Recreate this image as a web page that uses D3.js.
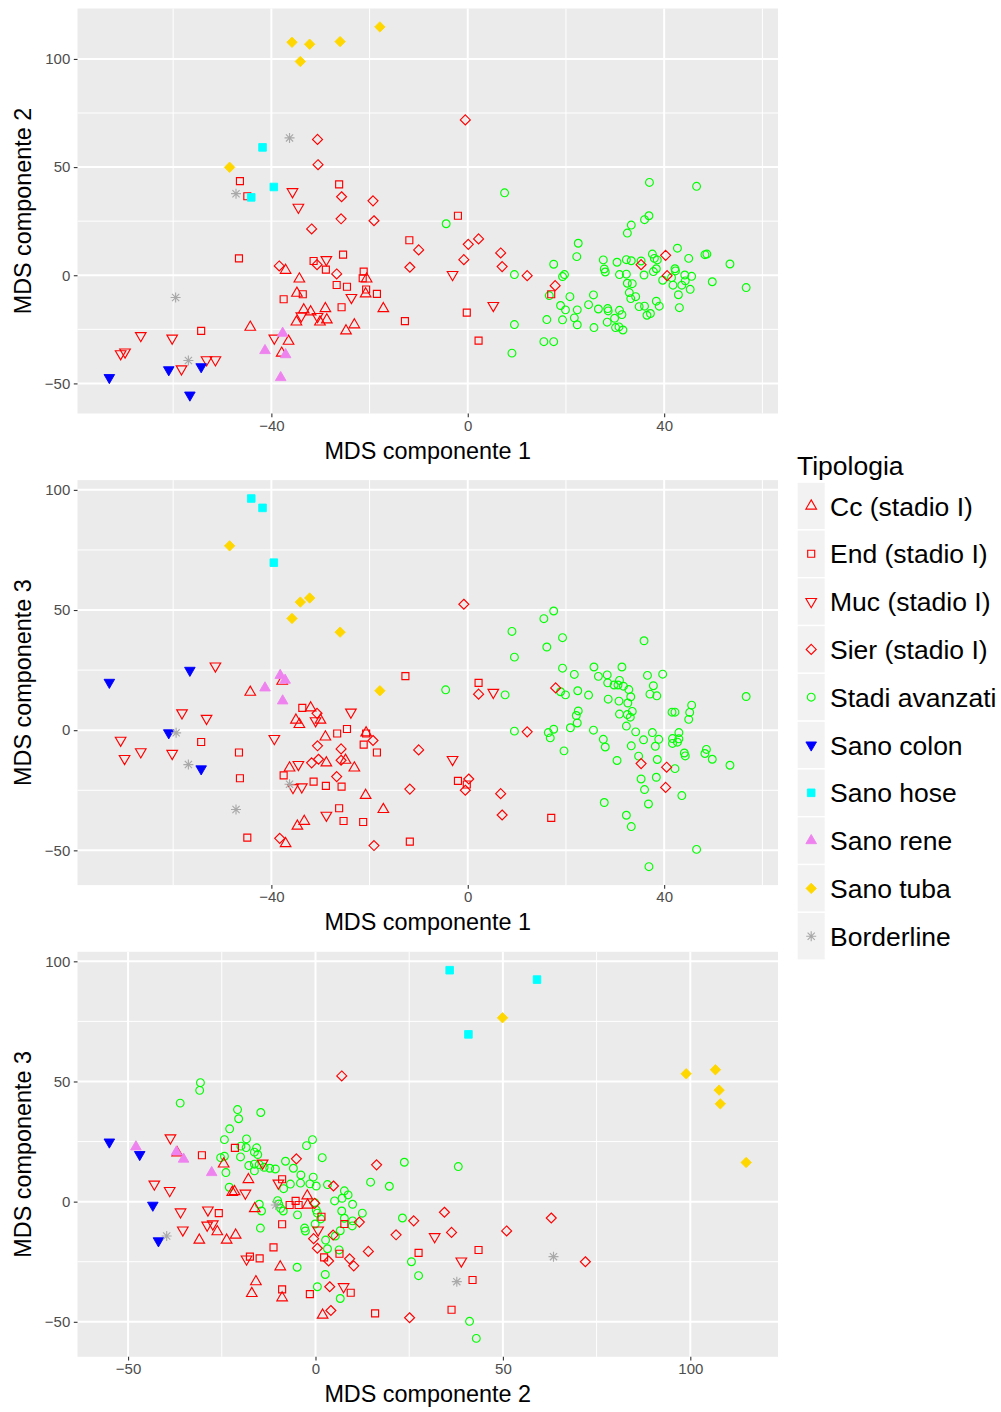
<!DOCTYPE html>
<html>
<head>
<meta charset="utf-8">
<script src="https://cdn.jsdelivr.net/npm/d3@7"></script>
<style>
  body { margin: 0; background: #ffffff; }
  svg { display: block; }
  text { font-family: "Liberation Sans", Arial, Helvetica, sans-serif; }
</style>
</head>
<body>
<svg id="chart" width="1001" height="1412"></svg>
<script>
// ---- legend categories ----
const typeNames = ["Cc (stadio I)", "End (stadio I)", "Muc (stadio I)", "Sier (stadio I)",
  "Stadi avanzati", "Sano colon", "Sano hose", "Sano rene", "Sano tuba", "Borderline"];

// ---- axis titles and ticks ----
const axisTitles = [
  ["MDS componente 1", "MDS componente 2"],
  ["MDS componente 1", "MDS componente 3"],
  ["MDS componente 2", "MDS componente 3"]
];
const comp1Ticks = [-40, 0, 40];
const comp1Minor = [-60, -20, 20, 60];
const comp2Ticks = [-50, 0, 50, 100];
const comp2Minor = [-25, 25, 75];
const comp3Ticks = [-50, 0, 50, 100];
const comp3Minor = [-25, 25, 75];

// ---- component 1 vs component 2 ----
const cc12 = [[-37.1,2.3],[-34.3,-1.7],[-20.6,-1.7],[-34.8,-8.3],[-20.8,-8.6],[-17.2,-15.4],[-33.4,-16.0],[-32.0,-16.9],[-29.0,-15.4],[-34.9,-21.6],[-30.1,-21.6],[-28.7,-20.6],[-23.1,-22.9],[-24.8,-25.7],[-44.3,-24.0],[-36.5,-30.5],[-37.9,-36.0]];
const end12 = [[-46.4,43.5],[-44.9,36.5],[-26.2,42.0],[-11.9,16.2],[-46.6,7.8],[-31.4,6.6],[-25.4,9.5],[-28.9,2.6],[-21.2,1.7],[-21.4,-1.4],[-26.7,-4.5],[-24.6,-5.3],[-33.6,-8.8],[-20.7,-6.6],[-18.5,-8.6],[-37.5,-11.1],[-25.7,-14.8],[-12.8,-21.2],[-54.3,-25.7],[-2.0,27.5],[-0.2,-17.3],[2.2,-30.2],[17.0,-8.8]];
const muc12 = [[-35.7,38.6],[-34.5,31.4],[-28.8,7.2],[-23.7,-10.3],[-33.9,-18.8],[-30.6,-19.1],[-66.6,-27.9],[-60.2,-29.1],[-70.7,-36.3],[-69.8,-35.5],[-58.3,-43.3],[-53.2,-39.1],[-51.4,-39.1],[-39.4,-29.1],[-3.1,0.3],[5.2,-14.0]];
const sier12 = [[-30.6,62.8],[-30.5,51.1],[-25.7,36.3],[-19.3,34.4],[-25.8,26.1],[-19.1,25.2],[-31.8,21.4],[-10.0,11.7],[-11.8,3.7],[-38.4,4.3],[-30.7,4.9],[-26.7,0.6],[-0.5,71.8],[0.1,14.3],[2.2,16.8],[-0.8,7.2],[6.7,10.3],[7.0,4.0],[12.1,-0.2],[17.8,-4.8],[40.3,9.2],[35.3,4.9],[40.6,-0.2]];
const stadi12 = [[-4.4,23.8],[7.5,38.1],[37.0,42.9],[46.6,41.1],[36.9,27.5],[36.0,25.7],[33.3,23.2],[32.5,19.5],[9.5,0.3],[9.5,-22.8],[9.0,-36.0],[15.5,-30.7],[17.5,-30.7],[16.1,-20.5],[17.5,5.1],[19.3,-0.6],[19.7,0.3],[22.5,14.8],[22.2,8.6],[16.6,-9.4],[20.8,-9.9],[18.9,-14.0],[19.9,-16.0],[19.3,-20.6],[21.7,-19.7],[22.3,-22.9],[22.3,-16.0],[24.6,-13.6],[25.6,-9.1],[25.7,-24.2],[26.6,-15.6],[27.6,7.1],[27.8,2.9],[28.0,1.5],[28.5,-15.4],[28.6,-16.5],[28.4,-21.7],[29.9,-19.9],[30.1,-24.2],[30.8,-23.9],[31.6,-25.3],[30.9,-16.2],[31.4,-18.2],[30.4,6.0],[30.9,0.3],[32.3,7.2],[32.3,0.5],[32.5,-3.7],[33.5,-3.9],[33.3,6.7],[35.3,6.6],[35.9,0.1],[32.9,-8.0],[33.2,-10.8],[34.2,-9.9],[34.9,-14.5],[36.0,-14.3],[36.5,-18.5],[37.2,-17.7],[37.6,9.8],[38.0,7.8],[38.6,7.1],[38.4,3.0],[37.8,1.7],[38.4,-12.0],[39.0,-14.3],[39.7,-2.3],[41.5,-1.1],[41.8,-4.6],[42.2,3.0],[42.3,2.0],[42.7,12.5],[42.9,-9.0],[43.1,-15.0],[43.6,-4.6],[44.2,0.1],[44.3,-2.6],[45.3,-6.5],[45.6,-0.5],[45.0,7.8],[48.3,9.5],[48.7,9.8],[49.8,-3.0],[53.4,5.2],[56.7,-5.7]];
const colon12 = [[-73.0,-47.3],[-60.9,-43.7],[-54.3,-42.3],[-56.6,-55.4]];
const hose12 = [[-41.8,59.1],[-39.5,40.8],[-44.1,36.0]];
const rene12 = [[-37.7,-26.8],[-41.3,-34.8],[-37.1,-36.7],[-38.1,-47.3]];
const tuba12 = [[-35.8,107.7],[-32.2,106.8],[-26.0,108.0],[-17.9,114.8],[-34.1,98.8],[-48.5,49.9]];
const border12 = [[-36.3,63.5],[-47.2,37.7],[-59.5,-10.3],[-56.9,-39.4]];

// ---- component 1 vs component 3 ----
const cc13 = [[-44.3,15.8],[-37.8,20.4],[-35.0,4.2],[-34.3,2.4],[-32.0,9.3],[-30.0,4.2],[-29.0,-2.8],[-20.7,-1.1],[-36.3,-15.7],[-28.8,-13.6],[-23.1,-15.7],[-24.9,-12.5],[-20.8,-27.1],[-17.2,-33.0],[-34.7,-39.9],[-33.3,-37.9],[-37.1,-47.2]];
const end13 = [[-12.7,22.5],[-33.7,9.3],[-54.3,-4.9],[-46.6,-9.3],[-46.4,-20.0],[-37.5,-18.8],[-26.6,-1.4],[-24.6,0.5],[-21.2,-6.0],[-18.5,-9.3],[-20.7,-1.4],[-31.4,-21.4],[-28.9,-23.2],[-25.7,-23.5],[-26.2,-32.5],[-25.3,-37.8],[-21.3,-38.2],[-44.9,-44.7],[-11.8,-46.4],[2.2,19.7],[-2.0,-21.1],[17.0,-36.5],[-0.2,-22.6]];
const muc13 = [[-51.4,26.7],[-58.2,7.2],[-53.2,4.9],[-70.7,-4.2],[-69.9,-11.8],[-66.6,-9.0],[-60.2,-9.7],[-39.4,-3.5],[-23.8,7.5],[-31.0,3.9],[-34.5,-14.3],[-35.6,-23.9],[-33.8,-23.6],[-28.8,-35.4],[5.2,15.7],[-3.1,-12.2]];
const sier13 = [[-0.8,52.4],[17.9,17.6],[-30.7,7.0],[-30.6,-6.5],[-25.8,-7.8],[-19.3,-4.3],[-10.0,-8.2],[-31.8,-13.6],[-30.4,-12.1],[-25.8,-12.5],[-26.7,-19.3],[-11.8,-24.5],[-38.3,-45.0],[-19.1,-48.0],[2.2,15.0],[12.1,-0.7],[0.2,-20.3],[-0.5,-25.0],[6.7,-26.4],[7.0,-35.3],[35.3,-13.9],[40.5,-15.4],[40.3,-23.8]];
const stadi13 = [[17.5,49.6],[15.5,46.4],[9.0,41.1],[19.3,38.5],[16.1,34.6],[35.9,37.2],[9.5,30.4],[19.3,25.8],[21.7,23.2],[25.7,26.3],[26.6,22.4],[28.4,23.0],[31.4,26.3],[28.5,19.7],[29.8,18.8],[30.6,18.8],[30.9,20.7],[31.7,18.3],[32.8,16.9],[36.6,22.8],[39.7,23.3],[37.8,18.5],[-4.5,16.8],[22.4,16.4],[18.9,16.0],[7.6,14.7],[19.9,14.7],[24.6,14.6],[33.2,13.9],[28.6,12.9],[30.8,12.1],[32.6,11.3],[37.1,15.0],[38.5,14.3],[45.6,10.4],[56.7,14.0],[41.6,7.5],[42.2,7.5],[45.2,7.4],[45.0,4.5],[22.5,8.0],[22.1,6.1],[22.3,3.0],[30.9,6.7],[32.5,6.5],[33.1,5.4],[33.5,7.8],[32.3,1.7],[20.9,1.0],[17.5,0.4],[16.4,-1.0],[16.8,-3.2],[9.5,-0.4],[25.6,0.0],[34.2,-0.7],[37.6,-1.0],[35.8,-4.0],[38.9,-3.8],[38.2,-6.7],[27.6,-3.8],[28.0,-7.0],[33.3,-6.5],[41.7,-3.5],[43.0,-1.0],[43.0,-3.6],[42.7,-5.0],[41.7,-5.5],[19.6,-8.6],[44.1,-9.5],[44.3,-10.7],[48.6,-8.0],[48.3,-9.7],[49.8,-12.1],[53.4,-14.6],[30.4,-12.6],[34.8,-10.8],[38.6,-12.2],[42.2,-16.0],[35.3,-20.3],[38.4,-19.6],[36.0,-24.7],[43.6,-27.2],[27.8,-30.1],[36.8,-30.7],[32.3,-35.4],[33.3,-40.1],[46.6,-49.6],[36.9,-56.8]];
const colon13 = [[-73.0,19.9],[-56.6,24.9],[-60.9,-1.1],[-54.3,-16.1]];
const hose13 = [[-44.1,96.4],[-41.8,92.5],[-39.5,69.7]];
const rene13 = [[-38.2,22.8],[-37.2,20.8],[-41.3,17.6],[-37.7,12.2]];
const tuba13 = [[-48.5,76.7],[-34.1,53.3],[-32.2,55.0],[-35.8,46.5],[-26.0,40.8],[-17.9,16.4]];
const border13 = [[-59.4,-1.1],[-56.9,-14.3],[-47.2,-33.0],[-36.3,-22.5]];

// ---- component 2 vs component 3 ----
const cc23 = [[-24.5,15.7],[-17.9,9.2],[-22.2,3.9],[-21.6,4.2],[-26.2,-12.5],[-21.3,-13.9],[-23.7,-16.0],[-31.0,-16.0],[-16.2,-2.9],[-9.4,-27.1],[-15.9,-33.3],[-17.0,-38.2],[-8.9,-40.0],[-2.2,2.4],[-2.1,-1.4],[1.9,-47.2],[-36.9,20.3]];
const end23 = [[-30.3,19.3],[-21.5,22.4],[-25.8,-4.8],[-8.9,9.3],[-6.9,-1.4],[-5.3,0.3],[-4.5,-1.4],[-8.9,-9.4],[-11.2,-19.0],[-17.5,-22.9],[-14.9,-23.6],[1.6,-6.3],[7.7,-9.3],[2.3,-23.2],[6.4,-21.7],[-8.9,-36.5],[-1.5,-38.5],[9.4,-37.9],[15.9,-46.5],[27.5,-21.3],[43.5,-20.1],[41.9,-32.6],[36.3,-45.0]];
const muc23 = [[-38.7,26.5],[-43.0,7.3],[-38.9,4.6],[-36.0,-4.3],[-35.4,-11.8],[-28.7,-3.5],[-28.9,-9.8],[-27.4,-9.3],[-18.7,3.5],[-18.4,-23.9],[-9.9,7.7],[-14.1,16.0],[7.5,-35.4],[0.7,-11.8],[31.8,-14.6],[38.9,-24.7]];
const sier23 = [[7.0,52.3],[-5.1,17.8],[4.8,6.5],[11.7,-8.5],[4.7,-13.9],[-0.5,-15.4],[0.5,-19.4],[3.5,-24.7],[9.1,-23.8],[10.2,-26.7],[14.1,-20.7],[3.8,-35.4],[4.1,-45.3],[16.3,15.3],[34.4,-4.4],[26.2,-8.0],[21.5,-13.8],[36.3,-12.8],[51.0,-12.2],[62.9,-6.8],[72.0,-25.0],[25.1,-48.3],[-0.2,-0.7]];
const stadi23 = [[-30.7,49.5],[-30.9,46.3],[-36.1,41.0],[-20.8,38.3],[-20.5,34.5],[-14.6,37.1],[-22.9,30.3],[-24.3,25.8],[-18.4,26.1],[-19.9,23.1],[-18.5,22.5],[-0.8,25.8],[-2.4,23.3],[-16.3,20.6],[-15.7,22.4],[-15.4,19.6],[-25.3,18.3],[-24.3,18.9],[-20.0,18.6],[-8.0,16.8],[1.8,18.3],[-17.8,15.0],[-16.3,15.6],[-16.3,12.8],[-15.0,15.4],[-13.7,14.3],[-12.2,13.9],[-10.7,13.6],[-5.9,13.9],[-3.9,11.1],[-0.6,10.2],[-23.9,12.1],[-23.0,6.0],[-8.5,5.4],[-6.7,7.3],[-4.0,7.7],[-1.5,7.4],[0.2,6.5],[3.2,7.1],[-15.0,-1.1],[-14.4,-3.9],[-10.1,0.4],[-9.8,-1.0],[-9.3,-2.8],[-8.6,-3.9],[-4.8,-5.5],[-0.2,-0.4],[0.2,-3.5],[0.5,-4.8],[1.4,-7.2],[-0.1,-9.3],[5.1,0.3],[7.1,1.4],[7.7,4.5],[8.7,2.8],[9.9,-1.1],[7.0,-3.9],[7.7,-6.9],[12.5,-4.8],[9.9,-8.0],[9.8,-10.1],[6.6,-12.1],[5.3,-14.3],[2.7,-16.0],[3.2,-19.6],[6.3,-20.1],[-14.7,-11.0],[-2.9,-11.0],[-2.7,-12.2],[-4.9,-27.3],[2.6,-30.3],[0.5,-35.4],[6.6,-40.3],[14.7,8.1],[23.7,16.4],[38.1,14.6],[19.7,6.4],[23.2,-6.8],[25.6,-25.0],[27.5,-30.8],[41.1,-49.8],[42.9,-56.9]];
const colon23 = [[-55.0,24.8],[-46.9,19.6],[-43.4,-1.5],[-41.9,-16.3]];
const hose23 = [[35.8,96.3],[59.1,92.4],[40.8,69.6]];
const rene23 = [[-47.9,22.8],[-37.1,20.7],[-35.2,17.7],[-27.7,12.1]];
const tuba23 = [[49.9,76.5],[98.9,53.2],[106.7,54.9],[107.7,46.4],[108.0,40.7],[114.9,16.3]];
const border23 = [[-39.7,-14.3],[-10.6,-1.4],[63.5,-22.9],[37.7,-33.3]];

// ---- point styles per category (shape, colour) ----
const markStyle = [
  { shape: "triUp",       color: "#FF0000" },
  { shape: "square",      color: "#FF0000" },
  { shape: "triDown",     color: "#FF0000" },
  { shape: "diamond",     color: "#FF0000" },
  { shape: "circle",      color: "#00FF00" },
  { shape: "triDownFill", color: "#0000FF" },
  { shape: "squareFill",  color: "#00FFFF" },
  { shape: "triUpFill",   color: "#EE82EE" },
  { shape: "diamondFill", color: "#FFD700" },
  { shape: "asterisk",    color: "#A9A9A9" }
];

const panels = [
  { series: [cc12, end12, muc12, sier12, stadi12, colon12, hose12, rene12, tuba12, border12],
    titles: axisTitles[0], xTicks: comp1Ticks, xMinor: comp1Minor, yTicks: comp2Ticks, yMinor: comp2Minor },
  { series: [cc13, end13, muc13, sier13, stadi13, colon13, hose13, rene13, tuba13, border13],
    titles: axisTitles[1], xTicks: comp1Ticks, xMinor: comp1Minor, yTicks: comp3Ticks, yMinor: comp3Minor },
  { series: [cc23, end23, muc23, sier23, stadi23, colon23, hose23, rene23, tuba23, border23],
    titles: axisTitles[2], xTicks: comp2Ticks, xMinor: comp2Minor, yTicks: comp3Ticks, yMinor: comp3Minor }
];

// ---- layout ----
const svg = d3.select("#chart");
const plotLeft = 77.5, plotWidth = 700.5, plotHeight = 405;
const plotTops = [8.5, 480.1, 951.8];
const fmt = d3.format("d");  // uses the typographic minus sign

function shapePath(kind) {
  switch (kind) {
    case "triUp": case "triUpFill":
      return "M0,-6.1L5.3,3.05L-5.3,3.05Z";
    case "triDown": case "triDownFill":
      return "M0,6.1L5.3,-3.05L-5.3,-3.05Z";
    case "square":
      return "M-3.5,-3.5H3.5V3.5H-3.5Z";
    case "squareFill":
      return "M-3.8,-3.8H3.8V3.8H-3.8Z";
    case "diamond":
      return "M0,-5L5,0L0,5L-5,0Z";
    case "diamondFill":
      return "M0,-5.2L5.2,0L0,5.2L-5.2,0Z";
    case "asterisk":
      return "M-5,0H5M0,-5V5M-3.6,-3.6L3.6,3.6M-3.6,3.6L3.6,-3.6";
    case "circle":
      return "M3.9,0A3.9,3.9 0 1,1 -3.9,0A3.9,3.9 0 1,1 3.9,0Z";
  }
}

function styleMark(sel, st) {
  const filled = st.shape.endsWith("Fill");
  sel.attr("d", shapePath(st.shape))
    .attr("fill", filled ? st.color : "none")
    .attr("stroke", st.color)
    .attr("stroke-width", filled ? 0.9 : 1.15)
    .attr("stroke-linejoin", "miter");
}

function expanded(vals) {
  const [lo, hi] = d3.extent(vals);
  const pad = (hi - lo) * 0.05;
  return [lo - pad, hi + pad];
}

// draw order: advanced stages first so red and healthy marks sit above them
const drawOrder = [4, 0, 1, 2, 3, 5, 6, 7, 8, 9];

panels.forEach((p, i) => {
  const top = plotTops[i];
  const all = p.series.flat();
  const x = d3.scaleLinear().domain(expanded(all.map(d => d[0]))).range([plotLeft, plotLeft + plotWidth]);
  const y = d3.scaleLinear().domain(expanded(all.map(d => d[1]))).range([top + plotHeight, top]);
  const [x0, x1] = x.domain(), [y0, y1] = y.domain();
  const inX = v => v >= x0 && v <= x1, inY = v => v >= y0 && v <= y1;

  const g = svg.append("g");
  g.append("rect").attr("x", plotLeft).attr("y", top).attr("width", plotWidth).attr("height", plotHeight)
    .attr("fill", "#EBEBEB");

  // minor grid
  g.selectAll(null).data(p.xMinor.filter(inX)).join("line")
    .attr("x1", d => x(d)).attr("x2", d => x(d)).attr("y1", top).attr("y2", top + plotHeight)
    .attr("stroke", "#FFFFFF").attr("stroke-width", 1);
  g.selectAll(null).data(p.yMinor.filter(inY)).join("line")
    .attr("y1", d => y(d)).attr("y2", d => y(d)).attr("x1", plotLeft).attr("x2", plotLeft + plotWidth)
    .attr("stroke", "#FFFFFF").attr("stroke-width", 1);
  // major grid
  g.selectAll(null).data(p.xTicks).join("line")
    .attr("x1", d => x(d)).attr("x2", d => x(d)).attr("y1", top).attr("y2", top + plotHeight)
    .attr("stroke", "#FFFFFF").attr("stroke-width", 2);
  g.selectAll(null).data(p.yTicks).join("line")
    .attr("y1", d => y(d)).attr("y2", d => y(d)).attr("x1", plotLeft).attr("x2", plotLeft + plotWidth)
    .attr("stroke", "#FFFFFF").attr("stroke-width", 2);

  // points
  const clipId = "clip" + i;
  svg.append("clipPath").attr("id", clipId).append("rect")
    .attr("x", plotLeft).attr("y", top).attr("width", plotWidth).attr("height", plotHeight);
  const pts = g.append("g").attr("clip-path", `url(#${clipId})`);
  drawOrder.forEach(k => {
    pts.selectAll(null).data(p.series[k]).join("path")
      .attr("transform", d => `translate(${x(d[0])},${y(d[1])})`)
      .call(styleMark, markStyle[k]);
  });

  // axes
  const xAxis = d3.axisBottom(x).tickValues(p.xTicks).tickFormat(fmt).tickSize(3.7).tickPadding(3);
  const yAxis = d3.axisLeft(y).tickValues(p.yTicks).tickFormat(fmt).tickSize(3.7).tickPadding(3.5);
  const gx = g.append("g").attr("transform", `translate(0,${top + plotHeight})`).call(xAxis);
  const gy = g.append("g").attr("transform", `translate(${plotLeft},0)`).call(yAxis);
  [gx, gy].forEach(a => {
    a.select(".domain").remove();
    a.selectAll(".tick line").attr("stroke", "#333333").attr("stroke-width", 1.1);
    a.selectAll(".tick text").attr("fill", "#4D4D4D").attr("font-size", 15)
      .attr("font-family", '"Liberation Sans", Arial, sans-serif');
  });

  g.append("text").attr("x", plotLeft + plotWidth / 2).attr("y", top + plotHeight + 45)
    .attr("text-anchor", "middle").attr("font-size", 23.4).attr("fill", "#000")
    .text(p.titles[0]);
  g.append("text").attr("transform", `translate(30.5,${top + plotHeight / 2}) rotate(-90)`)
    .attr("text-anchor", "middle").attr("font-size", 23.4).attr("fill", "#000")
    .text(p.titles[1]);
});

// ---- legend ----
const leg = svg.append("g");
leg.append("text").attr("x", 797).attr("y", 475).attr("font-size", 26.5).attr("fill", "#000").text("Tipologia");
const rowH = 47.8, firstRow = 506;
typeNames.forEach((name, k) => {
  const cy = firstRow + k * rowH;
  leg.append("rect").attr("x", 797).attr("y", cy - rowH / 2).attr("width", 28.4).attr("height", rowH)
    .attr("fill", "#F2F2F2").attr("stroke", "#FFFFFF").attr("stroke-width", 1.4);
  leg.append("path").attr("transform", `translate(811.2,${cy})`).call(styleMark, markStyle[k]);
  leg.append("text").attr("x", 830).attr("y", cy + 9.5).attr("font-size", 26.5).attr("fill", "#000").text(name);
});
</script>
</body>
</html>
